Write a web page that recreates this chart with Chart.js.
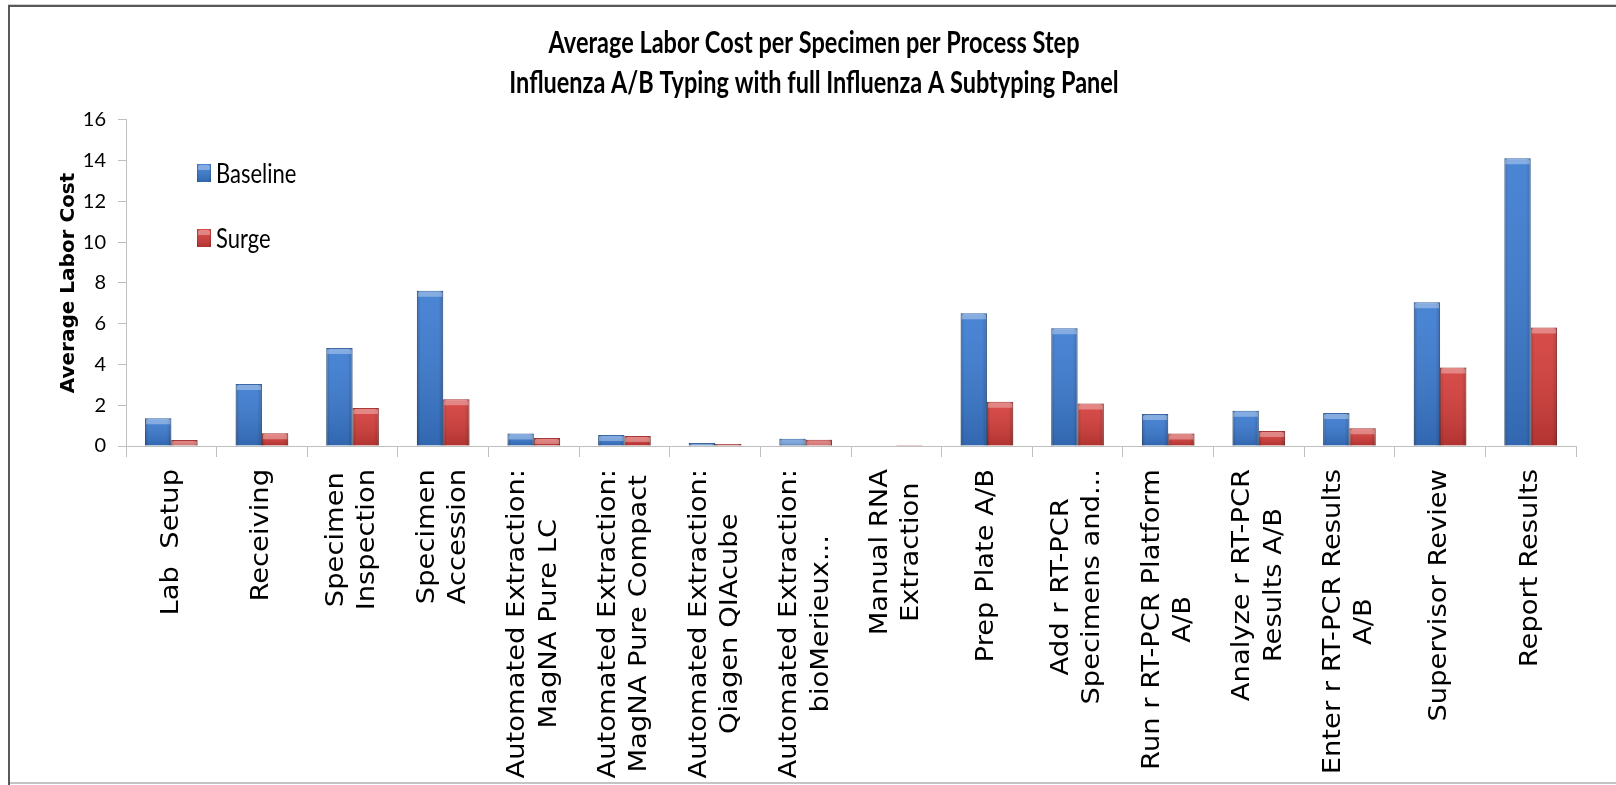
<!DOCTYPE html>
<html>
<head>
<meta charset="utf-8">
<title>Average Labor Cost per Specimen per Process Step</title>
<script src="https://cdn.jsdelivr.net/npm/chart.js@4.4.1/dist/chart.umd.min.js"></script>
<style>
  html, body { margin: 0; padding: 0; background: #ffffff; }
  #wrap { position: relative; width: 1616px; height: 785px; }
  canvas { display: block; }
</style>
</head>
<body>
<div id="wrap"><canvas id="chart" width="1616" height="785"></canvas></div>
<script>
// Process steps (multi-line labels are arrays of lines)
const categories = [
  'Lab  Setup',
  'Receiving',
  ['Specimen', 'Inspection'],
  ['Specimen', 'Accession'],
  ['Automated Extraction:', 'MagNA Pure LC'],
  ['Automated Extraction:', 'MagNA Pure Compact'],
  ['Automated Extraction:', 'Qiagen QIAcube'],
  ['Automated Extraction:', 'bioMerieux...'],
  ['Manual RNA', 'Extraction'],
  'Prep Plate A/B',
  ['Add r RT-PCR', 'Specimens and...'],
  ['Run r RT-PCR Platform', 'A/B'],
  ['Analyze r RT-PCR', 'Results A/B'],
  ['Enter r RT-PCR Results', 'A/B'],
  'Supervisor Review',
  'Report Results'
];

// Average labor cost per specimen
const baseline = [1.36, 3.04, 4.81, 7.62, 0.61, 0.54, 0.15, 0.36, 0, 6.51, 5.78, 1.57, 1.73, 1.62, 7.05, 14.12];
const surge    = [0.29, 0.62, 1.86, 2.29, 0.39, 0.49, 0.10, 0.31, 0.05, 2.17, 2.08, 0.61, 0.74, 0.87, 3.85, 5.81];

const seriesNames = ['Baseline', 'Surge'];
const titleLines = [
  'Average Labor Cost per Specimen per Process Step',
  'Influenza A/B Typing with full Influenza A Subtyping Panel'
];
const yAxisTitle = 'Average Labor Cost';
const yMin = 0, yMax = 16, yStep = 2;

const HUMANIST = 'Lato, "DejaVu Sans Condensed", sans-serif';
const WIDE = '"DejaVu Sans", Verdana, sans-serif';
const AXIS_GRAY = '#bfbfbf';
const LABEL_STRETCH = 1.14;   // category labels drawn elongated along their reading direction
const TITLE_STRETCH = 1.28;   // tall, condensed title lettering
const LEGEND_STRETCH = 1.2;

const BLUE = '#3b7bd1', BLUE_EDGE = '#2d5e9e';
const RED = '#d43d3a', RED_EDGE = '#9f2b29';

// Outer frame of the slide
const framePlugin = {
  id: 'frame',
  beforeDraw(chart) {
    const ctx = chart.ctx;
    ctx.save();
    ctx.fillStyle = '#ffffff';
    ctx.fillRect(0, 0, chart.width, chart.height);
    ctx.fillStyle = '#d0d0d0';
    ctx.fillRect(8, 4, chart.width - 8, 1);
    ctx.fillStyle = '#595959';
    ctx.fillRect(8, 5, chart.width - 8, 2);
    ctx.fillRect(8, 5, 2, chart.height - 5);
    ctx.fillStyle = '#c4c4c4';
    ctx.fillRect(10, chart.height - 3, chart.width - 10, 2);
    ctx.restore();
  }
};

// Wrap a box's draw method with a vertical stretch about a fixed line
function stretchDraw(box, method, factor, anchorOf) {
  if (!box || box['_stretched_' + method]) return;
  box['_stretched_' + method] = true;
  const orig = box[method];
  box[method] = function (...args) {
    const c = this.ctx;
    const y0 = anchorOf(this);
    c.save();
    c.translate(0, y0);
    c.scale(1, factor);
    c.translate(0, -y0);
    orig.apply(this, args);
    c.restore();
  };
}

// Center the lines of each rotated category label as a block,
// and draw labels / title with their elongated lettering
const textLayout = {
  id: 'textLayout',
  beforeDraw(chart) {
    const scale = chart.scales.x;
    const items = scale.getLabelItems(chart.chartArea);
    const ctx = chart.ctx;
    items.forEach(item => {
      if (item._centered) return;
      item._centered = true;
      const lines = Array.isArray(item.label) ? item.label : [item.label];
      ctx.save();
      ctx.font = item.font.string;
      const w = Math.max(...lines.map(l => ctx.measureText(l).width));
      ctx.restore();
      const lh = item.font.lineHeight;
      const t = item.options.translation;
      item.options.translation = [t[0] - (lines.length - 1) * lh / 2, t[1] + w / 2];
      item.options.textAlign = 'center';
    });
    stretchDraw(scale, 'drawLabels', LABEL_STRETCH,
      s => s.top + s.options.grid.tickLength + s.options.ticks.padding);
    const tb = chart.titleBlock;
    if (tb) {
      stretchDraw(tb, 'draw', TITLE_STRETCH, b => {
        const o = b.options;
        const lh = o.font.size * o.font.lineHeight;
        return b.top + o.padding.top + lh / 2;
      });
    }
  }
};

function shadeBox(ctx, left, top, width, height) {
  let g = ctx.createLinearGradient(left, 0, left + width, 0);
  g.addColorStop(0, 'rgba(0,0,0,0.22)');
  g.addColorStop(0.14, 'rgba(0,0,0,0)');
  g.addColorStop(0.82, 'rgba(0,0,0,0)');
  g.addColorStop(1, 'rgba(0,0,0,0.20)');
  ctx.fillStyle = g;
  ctx.fillRect(left, top, width, height);
  g = ctx.createLinearGradient(0, top, 0, top + height);
  g.addColorStop(0, 'rgba(255,255,255,0.08)');
  g.addColorStop(1, 'rgba(0,0,0,0.16)');
  ctx.fillStyle = g;
  ctx.fillRect(left, top, width, height);
  const bh = Math.min(5, height - 1);
  if (bh > 0) {
    ctx.fillStyle = 'rgba(255,255,255,0.33)';
    ctx.beginPath();
    ctx.moveTo(left + 1, top + 1 + bh);
    ctx.lineTo(left + 1, top + 2);
    ctx.lineTo(left + 3, top + 1);
    ctx.lineTo(left + width - 3, top + 1);
    ctx.lineTo(left + width - 1, top + 2);
    ctx.lineTo(left + width - 1, top + 1 + bh);
    ctx.closePath();
    ctx.fill();
  }
}

// Bevel-style shading on top of each bar
const barShading = {
  id: 'barShading',
  afterDatasetsDraw(chart) {
    const ctx = chart.ctx;
    chart.data.datasets.forEach((ds, i) => {
      const meta = chart.getDatasetMeta(i);
      meta.data.forEach(bar => {
        const p = bar.getProps(['x', 'y', 'base', 'width'], true);
        const h = p.base - p.y;
        if (h < 1) return;
        ctx.save();
        shadeBox(ctx, p.x - p.width / 2, p.y, p.width, h);
        ctx.restore();
      });
    });
  }
};

// Legend drawn inside the plot area
const insideLegend = {
  id: 'insideLegend',
  afterDraw(chart) {
    const ctx = chart.ctx;
    const rows = [173, 238];
    chart.data.datasets.forEach((ds, i) => {
      const cy = rows[i];
      ctx.save();
      ctx.fillStyle = ds.backgroundColor;
      ctx.fillRect(197, cy - 9, 14, 18);
      shadeBox(ctx, 197, cy - 9, 14, 18);
      ctx.fillStyle = '#000000';
      ctx.font = '22px ' + HUMANIST;
      ctx.textBaseline = 'middle';
      ctx.textAlign = 'left';
      ctx.translate(216, cy + 1);
      ctx.scale(1, LEGEND_STRETCH);
      ctx.fillText(ds.label, 0, 0);
      ctx.restore();
    });
  }
};

new Chart(document.getElementById('chart'), {
  type: 'bar',
  data: {
    labels: categories,
    datasets: [
      { label: seriesNames[0], data: baseline, backgroundColor: BLUE, borderColor: BLUE_EDGE, borderWidth: 1 },
      { label: seriesNames[1], data: surge, backgroundColor: RED, borderColor: RED_EDGE, borderWidth: 1 }
    ]
  },
  options: {
    responsive: false,
    animation: false,
    events: [],
    layout: { padding: { left: 12, right: 0, top: 0, bottom: 0 } },
    datasets: { bar: { categoryPercentage: 0.58, barPercentage: 1.0 } },
    plugins: {
      legend: { display: false },
      tooltip: { enabled: false },
      title: {
        display: true,
        text: titleLines,
        color: '#000000',
        font: { family: HUMANIST, size: 23.5, weight: 'bold', lineHeight: 1.33 },
        padding: { top: 27.4, bottom: 30 }
      }
    },
    scales: {
      x: {
        offset: true,
        grid: { display: true, drawOnChartArea: false, drawTicks: true, tickLength: 11, color: AXIS_GRAY, offset: true },
        border: { display: true, color: AXIS_GRAY, width: 1 },
        ticks: {
          autoSkip: false, minRotation: 90, maxRotation: 90, padding: 12,
          color: '#000000',
          font: { family: WIDE, size: 24, lineHeight: 1.3 }
        },
        afterFit(scale) { scale.height = 339; }
      },
      y: {
        min: yMin, max: yMax,
        grid: { display: true, drawOnChartArea: false, drawTicks: true, tickLength: 8, color: AXIS_GRAY },
        border: { display: true, color: AXIS_GRAY, width: 1 },
        ticks: { stepSize: yStep, padding: 12, color: '#000000', font: { family: HUMANIST, size: 20 } },
        title: {
          display: true, text: yAxisTitle, color: '#000000',
          font: { family: WIDE, size: 20, weight: 'bold', lineHeight: 1.2 },
          padding: { top: 45, bottom: 0 }
        },
        afterFit(scale) { scale.width = 114; }
      },
      y2: {
        position: 'right',
        display: true,
        grid: { display: false },
        border: { display: false },
        ticks: { display: false },
        afterFit(scale) { scale.width = 40; }
      }
    }
  },
  plugins: [framePlugin, textLayout, barShading, insideLegend]
});
</script>
</body>
</html>
